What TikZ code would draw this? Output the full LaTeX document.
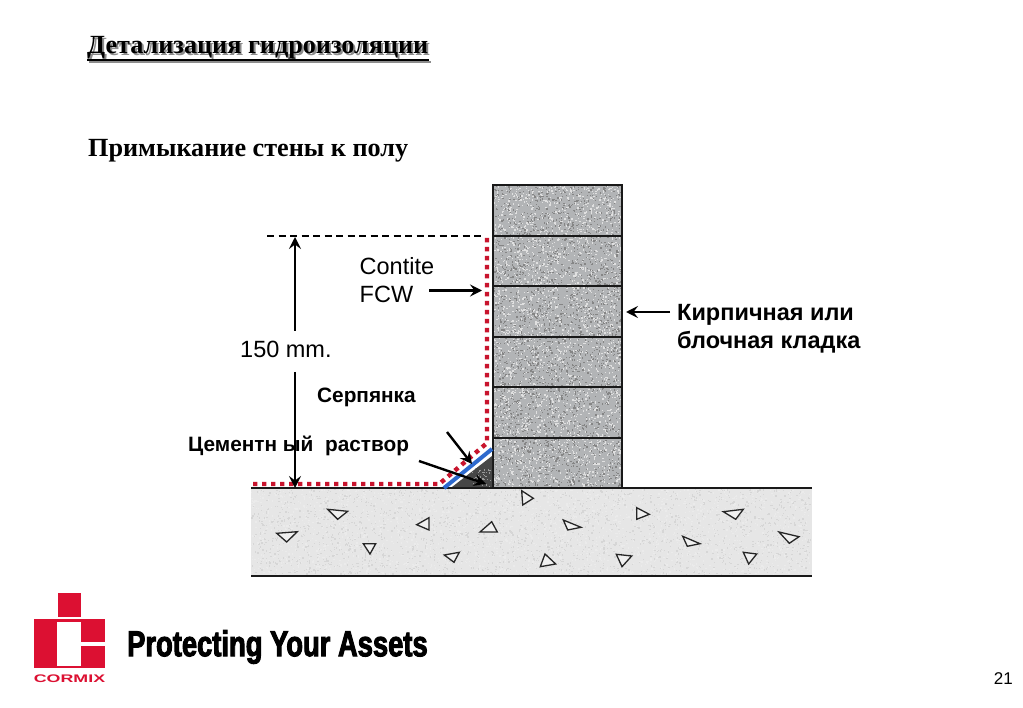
\documentclass[tikz,border=0pt]{standalone}
\usepackage{fontspec}
\setmainfont{Liberation Sans}
\newfontfamily\serifbf[Ligatures=TeX]{Liberation Serif}
\newfontfamily\impactf[FakeBold=2.6,FakeStretch=0.76]{Liberation Sans}
\usetikzlibrary{arrows.meta}
\definecolor{cmred}{RGB}{220,16,50}
\definecolor{dotred}{RGB}{200,20,45}
\definecolor{cmblue}{RGB}{45,105,205}
\definecolor{wallgray}{RGB}{178,180,182}
\definecolor{slabgray}{RGB}{230,230,230}
\tikzset{
  x=1pt,y=-1pt,
  outline/.style={draw=black!90,line width=1.9pt},
  brick/.style={draw=black!90,line width=1.4pt},
  tri/.style={draw=black!85,line width=1.3pt,fill=slabgray!60!white,line join=miter},
  ptr/.style={black,line width=2.4pt,-{Stealth[length=12pt,width=12pt,inset=4.5pt]}},
  redline/.style={dotred,line width=4.4pt,dash pattern=on 4.4pt off 4.6pt},
  plainnote/.style={inner sep=0pt,anchor=west,font=\fontsize{23.5}{28.5}\selectfont,text=black},
  boldnote/.style={inner sep=0pt,anchor=west,font=\fontsize{20.8}{24}\selectfont\bfseries,text=black},
}
\newcommand{\speck}[7]{% x0 y0 w h n color size
  \foreach \i in {1,...,#5}{%
    \pgfmathsetmacro\sx{#1+rnd*#3}\pgfmathsetmacro\sy{#2+rnd*#4}%
    \fill[#6] (\sx,\sy) rectangle +(#7,#7);}%
}
\begin{document}
\begin{tikzpicture}
\useasboundingbox (0,0) rectangle (1023,708);
\fill[white] (0,0) rectangle (1023,708);
\pgfmathsetseed{4242}
% slab
\fill[slabgray] (251,488) rectangle (812,576);
\speck{251}{489}{559}{85}{2200}{black!16}{1.3}
\speck{251}{489}{559}{85}{2200}{white!92!black}{1.3}
% wall
\fill[wallgray] (493,185) rectangle (622,488);
\speck{493}{185}{127}{301}{2600}{black!48}{1.3}
\speck{493}{185}{127}{301}{2600}{black!12}{1.3}
% bricks
\draw[brick] (493,185) rectangle (622,488);
\foreach \yy in {236,286,337,387,438}{\draw[brick] (493,\yy) -- (622,\yy);}
% floor lines
\draw[outline] (251,488) -- (812,488);
\draw[outline] (251,576) -- (812,576);
% aggregate
\foreach \a/\b/\c in {
 {327.7,509.3}/{347.7,511.3}/{337.7,519.3},
 {276.7,533.3}/{297.3,531.7}/{286.7,542},
 {363.3,543.7}/{375.7,543.7}/{370,554},
 {416.7,524.7}/{429,517.7}/{429,530},
 {444.3,555}/{459.3,552.3}/{454,562.3},
 {480,532}/{497.3,532}/{491.7,521.7},
 {521.7,490.7}/{533.3,498.3}/{522.7,505},
 {636.7,507.7}/{649.3,514.3}/{636.7,519.3},
 {563.3,520}/{581,527.3}/{567.7,530},
 {723.3,511.7}/{743.3,509.3}/{735.7,519.3},
 {682.7,536.3}/{700,543.7}/{687.3,546.3},
 {779,532}/{799,536.7}/{789.3,543.3},
 {743.3,552.3}/{756.7,554}/{748.7,564},
 {616.3,554.3}/{631.7,556}/{622,566.7},
 {545,554}/{555.7,564}/{540.3,566.7}}
 {\draw[tri] (\a) -- (\b) -- (\c) -- cycle;}
% mortar fillet
\fill[black!72] (452,487) -- (492,456) -- (492,487) -- cycle;
\speck{472}{468}{18}{18}{40}{black!40}{1.2}
% scrim
\draw[cmblue,line width=4pt] (444,488) -- (492,449);
% membrane
\draw[redline] (487,238) -- (487,443) -- (441,482.5) -- (440,484) -- (251,484);
% dashed height line
\draw[black,line width=1.2pt,dash pattern=on 7pt off 4.5pt] (267,236) -- (484,236);
% named points
\coordinate (dimTop) at (295,237);
\coordinate (dimBot) at (295,488);
\coordinate (fcwTip) at (482,290.5);
\coordinate (fcwTail) at (429,290.5);
\coordinate (wallTip) at (626,312);
\coordinate (wallTail) at (670,312);
\coordinate (scrimTip) at (472,464);
\coordinate (scrimTail) at (447,432);
\coordinate (mortarTip) at (486,484);
\coordinate (mortarTail) at (419,461);
% labels
\node[plainnote] (h) at (240,349) {150 mm.};
\node[plainnote,align=left] (contite) at (359.5,280) {Contite\\FCW};
\node[plainnote,align=left,font=\fontsize{23.5}{28.5}\selectfont\bfseries] (brick) at (677,329) {Кирпичная или\\блочная кладка};
\node[boldnote] (serp) at (317,397) {Серпянка};
\node[boldnote] (cem) at (188,446) {Цементн ый\ \ раствор};
% arrows
\draw[ptr] (295,331) -- (dimTop);
\draw[ptr] (295,372) -- (dimBot);
\draw[ptr] (fcwTail) -- (fcwTip);
\draw[ptr] (wallTail) -- (wallTip);
\draw[ptr] (scrimTail) -- (scrimTip);
\draw[ptr] (mortarTail) -- (mortarTip);
% titles
\node[inner sep=0pt,anchor=west,font=\serifbf\bfseries\fontsize{26.2}{30}\selectfont,text=black!45] (titleS) at (89,49.5) {Детализация гидроизоляции};
\draw[black!45,line width=1.6pt] (titleS.west |- 0,62) -- (titleS.east |- 0,62);
\node[inner sep=0pt,anchor=west,font=\serifbf\bfseries\fontsize{26.2}{30}\selectfont] (title) at (87,48) {Детализация гидроизоляции};
\draw[black,line width=1.6pt] (title.west |- 0,60) -- (title.east |- 0,60);
\node[inner sep=0pt,anchor=west,font=\serifbf\bfseries\fontsize{26.2}{30}\selectfont] (sub) at (88,151) {Примыкание стены к полу};
% logo
\fill[cmred] (58,593) rectangle (81,617);
\fill[cmred] (34,619) rectangle (105,668);
\fill[white] (57,622) rectangle (81,666);
\fill[white] (81,642) rectangle (105,645.5);
\node[inner sep=0pt,font=\bfseries\fontsize{11}{12}\selectfont,text=cmred,xscale=1.62] (logo) at (69.5,679) {CORMIX};
\node[inner sep=0pt,anchor=west,font=\impactf\bfseries\fontsize{36}{40}\selectfont] (slogan) at (127,647) {Protecting Your Assets};
\node[inner sep=0pt,anchor=east,font=\fontsize{17}{20}\selectfont] (page) at (1013,679) {21};
\end{tikzpicture}
\end{document}
